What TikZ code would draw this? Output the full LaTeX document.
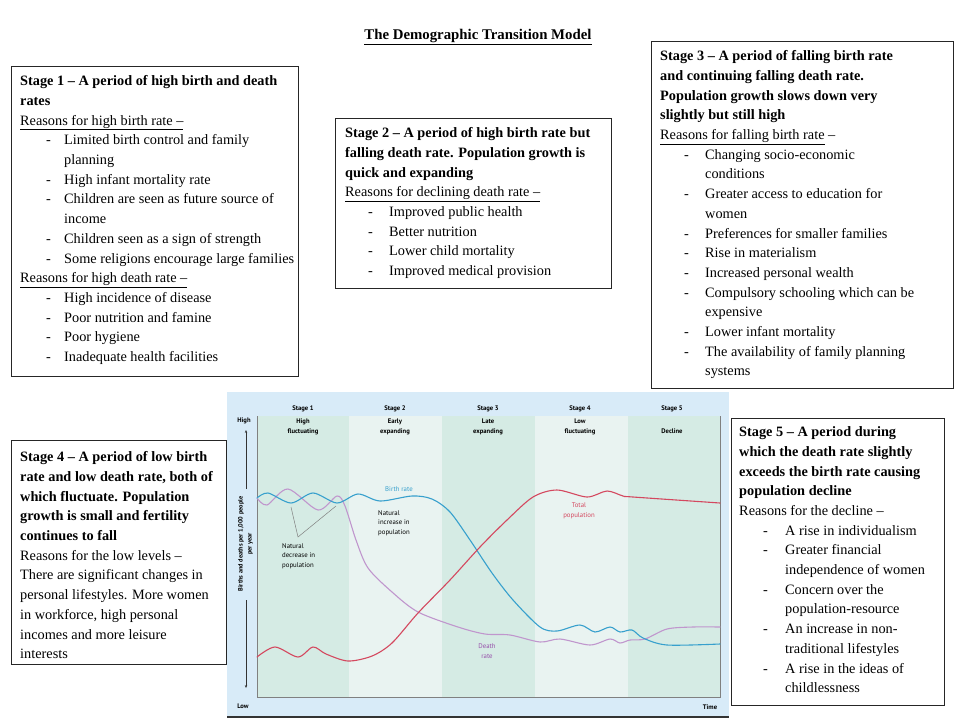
\documentclass[tikz,border=0pt]{standalone}
\usepackage{fontspec}
\setmainfont{Liberation Serif}
\newfontfamily\chartfont{PT Sans}
\usetikzlibrary{arrows.meta}
\definecolor{chartbg}{RGB}{216,235,248}
\definecolor{stA}{RGB}{213,235,228}
\definecolor{stB}{RGB}{233,243,241}
\definecolor{brate}{RGB}{55,160,205}
\definecolor{drate}{RGB}{192,150,205}
\definecolor{tpop}{RGB}{212,72,95}
\definecolor{drtxt}{RGB}{150,80,170}
\newcommand{\bul}[3]{\hspace*{#1pt}\makebox[#2pt][l]{-}#3}
\tikzset{
  boxframe/.style={draw=black!85, line width=1.2pt, fill=white, anchor=north west, inner sep=0pt},
  boxtext/.style={anchor=north west, inner sep=0pt, align=left, font=\fontsize{14.3}{19.7}\selectfont},
  stlab/.style={font=\chartfont\bfseries\fontsize{6.6}{10}\selectfont, align=center, inner sep=0pt},
  chtxt/.style={font=\chartfont\fontsize{6.8}{9.5}\selectfont, align=left, inner sep=0pt},
  curve/.style={line width=1.1pt, smooth, line cap=round}
}
\begin{document}
\begin{tikzpicture}[x=1pt,y=-1pt]
\useasboundingbox (0,0) rectangle (960,720);
% title
\node (title) at (478,37) {\fontsize{14.8}{16}\selectfont\bfseries\underline{The Demographic Transition Model}};

% ---------- chart ----------
\fill[chartbg] (227,392) rectangle (729,717);
\fill[stA] (257,416) rectangle (349,697);
\fill[stB] (349,416) rectangle (442,697);
\fill[stA] (442,416) rectangle (535,697);
\fill[stB] (535,416) rectangle (628,697);
\fill[stA] (628,416) rectangle (720,697);
\draw[black!80, line width=1.5pt] (227,717) -- (729,717);
\draw[gray, line width=0.5pt] (257,416) -- (257,697) -- (720,697) -- (720,416);

\node[stlab] (s1) at (303,409) {Stage 1};
\node[stlab] (s2) at (395,409) {Stage 2};
\node[stlab] (s3) at (488,409) {Stage 3};
\node[stlab] (s4) at (580,409) {Stage 4};
\node[stlab] (s5) at (672,409) {Stage 5};
\node[stlab] (d1) at (303,427) {High\\fluctuating};
\node[stlab] (d2) at (395,427) {Early\\expanding};
\node[stlab] (d3) at (488,427) {Late\\expanding};
\node[stlab] (d4) at (580,427) {Low\\fluctuating};
\node[stlab] (d5) at (672,431) {Decline};
\node[stlab] (hi) at (244,421) {High};
\node[stlab] (lo) at (243,706) {Low};
\node[stlab] (tm) at (710,707) {Time};

% y axis label
\node[chtxt, align=center, rotate=90, font=\chartfont\bfseries\fontsize{6.3}{9}\selectfont] (ylab) at (245.5,544) {Births and deaths per 1,000 people\\per year};
\coordinate (yt) at (246,430);
\coordinate (yb) at (246,688);
\draw[black!80, line width=0.5pt, -{Stealth[length=3pt,width=2.4pt]}] (246,489) -- (yt);
\draw[black!80, line width=0.5pt, -{Stealth[length=3pt,width=2.4pt]}] (246,600) -- (yb);

% curves
\draw[drate, curve] plot coordinates {(257,498) (267,505) (288,489) (318,510) (337,496) (345,506) (356,540) (368,568) (392,592) (418,612) (458,627) (485,634) (510,635) (540,642) (560,639) (590,645) (610,639) (620,643) (630,640) (645,639) (667,629) (693,627) (720,627)};
\draw[brate, curve] plot coordinates {(257,498) (268,493) (291,503) (313,493) (337,503) (358,494) (380,501) (412,496) (432,499) (450,512) (470,540) (492,573) (513,600) (540,627) (557,631) (580,625) (595,632) (610,627) (620,632) (632,630) (643,638) (667,645) (720,644)};
\draw[tpop, curve] plot coordinates {(257,657) (275,647) (298,657) (313,647) (326,654) (348,661) (372,656) (392,643) (418,613) (450,580) (480,547) (507,520) (533,497) (557,490) (587,497) (607,491) (623,496) (633,497) (720,503)};

\node[chtxt, text=brate] (br) at (399,489) {Birth rate};
\node[chtxt, text=tpop, align=center] (tp) at (579,511) {Total\\population};
\node[chtxt, text=drtxt, align=center] (dr) at (487,651) {Death\\rate};
\node[chtxt, anchor=north west] (ni) at (378,510) {Natural\\increase in\\population};
\node[chtxt, anchor=north west] (nd) at (282,543) {Natural\\decrease in\\population};
\coordinate (ndv) at (298,537);
\coordinate (nd1) at (291,507);
\coordinate (nd2) at (336,506);
\draw[gray, line width=0.5pt] (nd1) -- (ndv) -- (nd2);

% ---------- box 1 ----------
\node[boxframe, minimum width=287pt, minimum height=310pt] (b1) at (11,66) {};
\node[boxtext] (t1) at (20,75.5) {\textbf{Stage 1 – A period of high birth and death}\\
\textbf{rates}\\
\underline{Reasons for high birth rate –}\\
\bul{26}{18}{Limited birth control and family}\\
\hspace*{44pt}planning\\
\bul{26}{18}{High infant mortality rate}\\
\bul{26}{18}{Children are seen as future source of}\\
\hspace*{44pt}income\\
\bul{26}{18}{Children seen as a sign of strength}\\
\bul{26}{18}{Some religions encourage large families}\\
\underline{Reasons for high death rate –}\\
\bul{26}{18}{High incidence of disease}\\
\bul{26}{18}{Poor nutrition and famine}\\
\bul{26}{18}{Poor hygiene}\\
\bul{26}{18}{Inadequate health facilities}};

% ---------- box 2 ----------
\node[boxframe, minimum width=276pt, minimum height=170pt] (b2) at (335,118) {};
\node[boxtext] (t2) at (345,127.5) {\textbf{Stage 2 – A period of high birth rate but}\\
\textbf{falling death rate. Population growth is}\\
\textbf{quick and expanding}\\
\underline{Reasons for declining death rate –}\\
\bul{23}{21}{Improved public health}\\
\bul{23}{21}{Better nutrition}\\
\bul{23}{21}{Lower child mortality}\\
\bul{23}{21}{Improved medical provision}};

% ---------- box 3 ----------
\node[boxframe, minimum width=302pt, minimum height=347pt] (b3) at (651,41) {};
\node[boxtext] (t3) at (660,50.5) {\textbf{Stage 3 – A period of falling birth rate}\\
\textbf{and continuing falling death rate.}\\
\textbf{Population growth slows down very}\\
\textbf{slightly but still high}\\
\underline{Reasons for falling birth rate} –\\
\bul{24}{21}{Changing socio-economic}\\
\hspace*{45pt}conditions\\
\bul{24}{21}{Greater access to education for}\\
\hspace*{45pt}women\\
\bul{24}{21}{Preferences for smaller families}\\
\bul{24}{21}{Rise in materialism}\\
\bul{24}{21}{Increased personal wealth}\\
\bul{24}{21}{Compulsory schooling which can be}\\
\hspace*{45pt}expensive\\
\bul{24}{21}{Lower infant mortality}\\
\bul{24}{21}{The availability of family planning}\\
\hspace*{45pt}systems};

% ---------- box 4 ----------
\node[boxframe, minimum width=215pt, minimum height=224pt] (b4) at (11,440) {};
\node[boxtext] (t4) at (20,451.5) {\textbf{Stage 4 – A period of low birth}\\
\textbf{rate and low death rate, both of}\\
\textbf{which fluctuate. Population}\\
\textbf{growth is small and fertility}\\
\textbf{continues to fall}\\
Reasons for the low levels –\\
There are significant changes in\\
personal lifestyles. More women\\
in workforce, high personal\\
incomes and more leisure\\
interests};

% ---------- box 5 ----------
\node[boxframe, minimum width=213pt, minimum height=287pt] (b5) at (731,418) {};
\node[boxtext] (t5) at (739,426.5) {\textbf{Stage 5 – A period during}\\
\textbf{which the death rate slightly}\\
\textbf{exceeds the birth rate causing}\\
\textbf{population decline}\\
Reasons for the decline –\\
\bul{24}{22}{A rise in individualism}\\
\bul{24}{22}{Greater financial}\\
\hspace*{46pt}independence of women\\
\bul{24}{22}{Concern over the}\\
\hspace*{46pt}population-resource\\
\bul{24}{22}{An increase in non-}\\
\hspace*{46pt}traditional lifestyles\\
\bul{24}{22}{A rise in the ideas of}\\
\hspace*{46pt}childlessness};
\end{tikzpicture}
\end{document}
